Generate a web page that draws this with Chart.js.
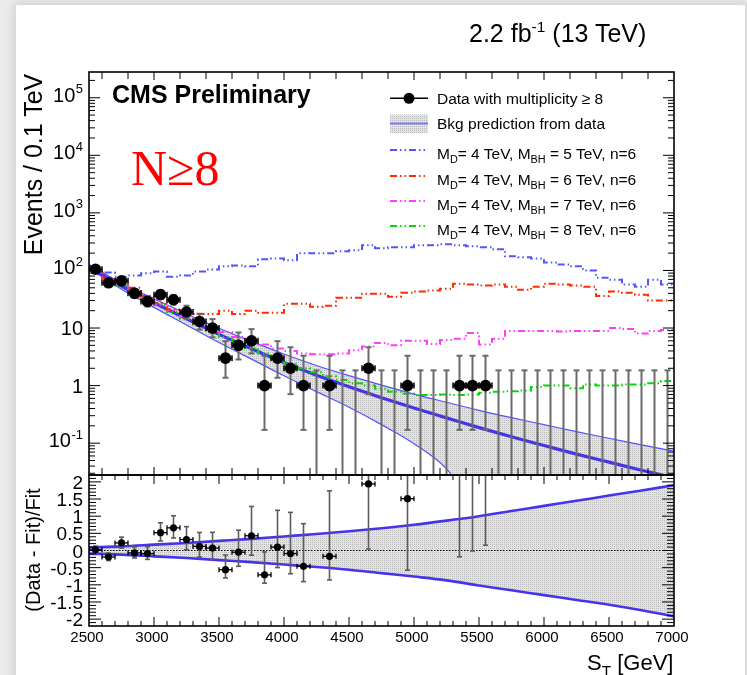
<!DOCTYPE html>
<html>
<head>
<meta charset="utf-8">
<title>Black hole search, multiplicity ≥ 8</title>
<script src="https://cdn.jsdelivr.net/npm/chart.js@4.4.1/dist/chart.umd.min.js"></script>
<style>
  html, body { margin:0; padding:0; }
  body { width:747px; height:675px; overflow:hidden; position:relative; background:#ebebeb;
         font-family:"Liberation Sans", Arial, Helvetica, sans-serif; }
  #sheet { position:absolute; left:16px; top:5px; right:2px; bottom:-20px; background:#fff;
           box-shadow:0 0 9px 2px rgba(0,0,0,0.12); }
  canvas { position:absolute; left:0; top:0; }
  .txt { position:absolute; white-space:nowrap; color:#000; line-height:1; }
  .sub { font-size:70%; position:relative; top:0.37em; }
  .sup { font-size:62%; position:relative; top:-0.62em; }
  .rot { position:absolute; width:300px; text-align:center; white-space:nowrap; transform:rotate(-90deg); transform-origin:50% 50%; }
</style>
</head>
<body>
<div id="sheet"></div>
<canvas id="mainPad" width="747" height="675" style="width:747px;height:675px"></canvas>
<canvas id="ratioPad" width="747" height="675" style="width:747px;height:675px"></canvas>

<div class="txt" style="left:469px; top:20.8px; font-size:25px;">2.2 fb<span class="sup">-1</span> (13 TeV)</div>
<div class="txt" style="left:112px; top:81.8px; font-size:25px; font-weight:bold;">CMS Preliminary</div>
<div class="txt" style="left:131px; top:143.1px; font-size:50px; color:#ff0000; font-family:'Liberation Serif','Times New Roman',serif;">N≥8</div>

<div class="txt" style="left:437px; top:90.9px; font-size:15.5px;">Data with multiplicity ≥ 8</div>
<div class="txt" style="left:437px; top:116.2px; font-size:15.5px;">Bkg prediction from data</div>
<div class="txt" style="left:437px; top:146.2px; font-size:15.5px;">M<span class="sub">D</span>= 4 TeV, M<span class="sub">BH</span> = 5 TeV, n=6</div>
<div class="txt" style="left:437px; top:171.6px; font-size:15.5px;">M<span class="sub">D</span>= 4 TeV, M<span class="sub">BH</span> = 6 TeV, n=6</div>
<div class="txt" style="left:437px; top:196.9px; font-size:15.5px;">M<span class="sub">D</span>= 4 TeV, M<span class="sub">BH</span> = 7 TeV, n=6</div>
<div class="txt" style="left:437px; top:221.6px; font-size:15.5px;">M<span class="sub">D</span>= 4 TeV, M<span class="sub">BH</span> = 8 TeV, n=6</div>

<div class="rot" style="left:-117.5px; top:151.5px; font-size:25px; line-height:25px;">Events / 0.1 TeV</div>
<div class="rot" style="left:-117px; top:540px; font-size:20px; line-height:20px;">(Data - Fit)/Fit</div>
<div class="txt" style="left:587px; top:652.4px; font-size:22px;">S<span class="sub">T</span> [GeV]</div>

<script>
// ---------- binning: 100 GeV bins in S_T ----------
const binCenters = [2550, 2650, 2750, 2850, 2950, 3050, 3150, 3250, 3350, 3450,
                    3550, 3650, 3750, 3850, 3950, 4050, 4150, 4250, 4350, 4450,
                    4550, 4650, 4750, 4850, 4950, 5050, 5150, 5250, 5350, 5450,
                    5550, 5650, 5750, 5850, 5950, 6050, 6150, 6250, 6350, 6450,
                    6550, 6650, 6750, 6850, 6950];

// ---------- observed events (multiplicity >= 8) ----------
const dataCounts = [105, 61, 66, 40, 29, 38, 31, 19, 13, 10,
                    3, 5, 6, 1, 3, 2, 1, 0, 1, 0,
                    0, 2, 0, 0, 1, 0, 0, 0, 1, 1,
                    1, 0, 0, 0, 0, 0, 0, 0, 0, 0,
                    0, 0, 0, 0, 0];
// Poisson (Garwood) uncertainties
const dataErrLow = [10.2, 7.8, 8.1, 6.3, 5.4, 6.1, 5.5, 4.3, 3.6, 3.1,
                    1.63, 2.16, 2.38, 0.83, 1.63, 1.29, 0.83, 0, 0.83, 0,
                    0, 1.29, 0, 0, 0.83, 0, 0, 0, 0.83, 0.83,
                    0.83, 0, 0, 0, 0, 0, 0, 0, 0, 0,
                    0, 0, 0, 0, 0];
const dataErrHigh = [11.3, 8.9, 9.2, 7.4, 6.4, 7.2, 6.6, 5.4, 4.7, 4.3,
                     2.92, 3.38, 3.58, 2.30, 2.92, 2.64, 2.30, 1.84, 2.30, 1.84,
                     1.84, 2.64, 1.84, 1.84, 2.30, 1.84, 1.84, 1.84, 2.30, 2.30,
                     2.30, 1.84, 1.84, 1.84, 1.84, 1.84, 1.84, 1.84, 1.84, 1.84,
                     1.84, 1.84, 1.84, 1.84, 1.84];

// ---------- (Data - Fit)/Fit per bin (null: empty bin) ----------
const ratioValues = [0.02, -0.19, 0.22, -0.07, -0.09, 0.52, 0.66, 0.32, 0.12, 0.07,
                     -0.56, -0.05, 0.43, -0.71, 0.10, -0.09, -0.46, null, -0.17, null,
                     null, 1.94, null, null, 1.51, null, null, null, 3.8, 4.8,
                     5.8, null, null, null, null, null, null, null, null, null,
                     null, null, null, null, null];

// ---------- background fit and its relative uncertainty ----------
const fitST      = [2500, 2750, 3000, 3250, 3500, 3750, 4000, 4250, 4500, 4750,
                    5000, 5250, 5500, 5750, 6000, 6250, 6500, 6750, 7000];
const fitEvents  = [117.5, 53.7, 27.5, 14.5, 7.76, 4.37, 2.51, 1.51, 0.955, 0.617,
                    0.407, 0.275, 0.186, 0.129, 0.0912, 0.0646, 0.0468, 0.0339, 0.0251];
const fitRelUp   = [0.09, 0.12, 0.17, 0.22, 0.28, 0.34, 0.41, 0.48, 0.56, 0.65,
                    0.75, 0.87, 1.00, 1.15, 1.30, 1.45, 1.60, 1.75, 1.90];
const fitRelDown = [-0.09, -0.12, -0.17, -0.22, -0.28, -0.34, -0.41, -0.48, -0.56, -0.66,
                    -0.76, -0.87, -1.02, -1.16, -1.30, -1.44, -1.58, -1.74, -1.92];

// ---------- signal + background, M_D = 4 TeV, n = 6 ----------
const sigMBH5 = [105, 92, 78, 82, 89, 96, 78, 82, 96, 104,
                 118, 122, 118, 156, 162, 150, 199, 199, 199, 215,
                 224, 275, 243, 253, 253, 275, 275, 286, 275, 263,
                 253, 234, 176, 169, 162, 138, 127, 118, 100, 75,
                 69, 57, 52, 69, 57];
const sigMBH6 = [100, 75, 62, 50, 36, 27, 21, 18.4, 17.6, 17.6,
                 20, 17.6, 20, 18.4, 18.4, 26.3, 26.3, 23.4, 24.3, 33.6,
                 33.6, 39.5, 39.5, 35, 41, 43, 45, 48, 59, 57,
                 55, 57, 52, 46, 52, 59, 57, 55, 52, 36,
                 43, 41, 38, 30, 30];
const sigMBH7 = [100, 74, 57, 44, 34, 26, 20.5, 16, 12.5, 10,
                 8.5, 7, 5.8, 5.2, 4.4, 4.0, 3.6, 3.5, 3.5, 3.6,
                 4.1, 4.8, 5.5, 5.0, 6.0, 6.0, 5.3, 6.2, 6.5, 8.2,
                 5.2, 6.5, 8.9, 8.9, 8.9, 8.9, 8.7, 8.9, 8.9, 8.9,
                 10, 9.6, 8.0, 8.9, 9.2];
const sigMBH8 = [100, 71, 55, 42, 32, 25, 19, 14.5, 11.5, 9,
                 7, 5.6, 4.5, 3.6, 2.9, 2.4, 2.0, 1.7, 1.45, 1.25,
                 1.1, 1.0, 0.88, 0.78, 0.72, 0.69, 0.69, 0.70, 0.69, 0.70,
                 0.75, 0.78, 0.80, 0.82, 0.95, 1.0, 1.0, 0.9, 1.05, 1.0,
                 1.0, 1.05, 1.05, 1.1, 1.2];

// ---------- axis tick labels ----------
const mainTickExp   = [-1, 0, 1, 2, 3, 4, 5];
const ratioTickVals = [2, 1.5, 1, 0.5, 0, -0.5, -1, -1.5, -2];
const stTickVals    = [2500, 3000, 3500, 4000, 4500, 5000, 5500, 6000, 6500, 7000];

// ---------- styles ----------
const SANS = '"Liberation Sans", Arial, Helvetica, sans-serif';
const FIT_BLUE = '#4634ec';
const EDGE_BLUE = '#5252ff';
const DASH = [7, 3, 1.5, 3, 1.5, 3];
const SIG_COLORS = ['#5454ff', '#ff2a00', '#ff3cff', '#00dc00'];
const OFF_SCALE = 0.006;   // below the lowest axis value: a non-positive band edge is drawn off the pad

// fine dotted grey fill for the fit uncertainty
const dotCanvas = document.createElement('canvas');
dotCanvas.width = 2; dotCanvas.height = 2;
const dctx = dotCanvas.getContext('2d');
dctx.fillStyle = '#e3e3e3'; dctx.fillRect(0, 0, 2, 2);
dctx.fillStyle = '#bcbcbc'; dctx.fillRect(0, 0, 1, 1);
const bandPattern = dctx.createPattern(dotCanvas, 'repeat');

// ---------- derived tables ----------
const HALF = 50;
const stepPts = vals => vals.map((v, i) => ({x: binCenters[i] - HALF, y: v}))
                            .concat([{x: binCenters[binCenters.length - 1] + HALF, y: vals[vals.length - 1]}]);
const fitPts   = fitST.map((x, i) => ({x, y: fitEvents[i]}));
const upperPts = fitST.map((x, i) => ({x, y: fitEvents[i] * (1 + fitRelUp[i])}));
const lowerPts = fitST.map((x, i) => {
  const v = fitEvents[i] * (1 + fitRelDown[i]);
  return {x, y: v > 0 ? v : OFF_SCALE};
});
const dataPts = binCenters.map((x, i) => ({x, y: dataCounts[i]})).filter(p => p.y > 0);
const dataBars = binCenters.map((x, i) => ({
  x, hw: HALF,
  y: dataCounts[i] > 0 ? dataCounts[i] : null,
  lo: dataCounts[i] - dataErrLow[i],
  hi: dataCounts[i] + dataErrHigh[i]
}));

const ratioPts = [], ratioBars = [];
binCenters.forEach((x, i) => {
  const r = ratioValues[i];
  if (r === null) return;
  const fitHere = dataCounts[i] / (1 + r);
  ratioPts.push({x, y: r});
  ratioBars.push({x, hw: HALF, y: r, lo: r - dataErrLow[i] / fitHere, hi: r + dataErrHigh[i] / fitHere});
});
const ratioUpPts   = fitST.map((x, i) => ({x, y: fitRelUp[i]}));
const ratioDownPts = fitST.map((x, i) => ({x, y: fitRelDown[i]}));

// ---------- drawing helpers ----------
function seg(ctx, x1, y1, x2, y2) { ctx.beginPath(); ctx.moveTo(x1, y1); ctx.lineTo(x2, y2); ctx.stroke(); }

const errorBarPlugin = {
  id: 'errorBars',
  beforeDatasetDraw(chart, args) {
    const ds = chart.data.datasets[args.index];
    const eb = ds.errorBars;
    if (!eb) return;
    const {ctx, chartArea: a, scales: {x, y}} = chart;
    const isLog = y.type === 'logarithmic';
    const toPx = v => (isLog && v <= 0) ? a.bottom + 30 : y.getPixelForValue(v);
    ctx.save();
    ctx.beginPath(); ctx.rect(a.left, a.top, a.right - a.left, a.bottom - a.top); ctx.clip();
    eb.items.forEach(it => {
      const px = x.getPixelForValue(it.x);
      const pLo = toPx(it.lo), pHi = toPx(it.hi);
      ctx.strokeStyle = eb.vColor; ctx.lineWidth = eb.vWidth;
      seg(ctx, px, pLo, px, pHi);
      seg(ctx, px - eb.cap, pHi, px + eb.cap, pHi);
      seg(ctx, px - eb.cap, pLo, px + eb.cap, pLo);
      if (it.y !== null) {
        const py = toPx(it.y);
        const xl = x.getPixelForValue(it.x - it.hw), xr = x.getPixelForValue(it.x + it.hw);
        ctx.strokeStyle = eb.hColor; ctx.lineWidth = eb.hWidth;
        seg(ctx, xl, py, xr, py);
        seg(ctx, xl, py - eb.cap, xl, py + eb.cap);
        seg(ctx, xr, py - eb.cap, xr, py + eb.cap);
      }
    });
    ctx.restore();
  }
};

function framePlugin(id, xTicks, yTicks, extra) {
  return {
    id,
    afterDatasetsDraw(chart) {
      const {ctx, chartArea: a, scales: {x, y}} = chart;
      ctx.save();
      ctx.strokeStyle = '#000';
      ctx.lineWidth = 1;
      xTicks.forEach(([v, len]) => {
        const px = x.getPixelForValue(v);
        seg(ctx, px, a.bottom, px, a.bottom - len);
        seg(ctx, px, a.top, px, a.top + len);
      });
      yTicks.forEach(([v, len]) => {
        const py = y.getPixelForValue(v);
        seg(ctx, a.left, py, a.left + len, py);
        seg(ctx, a.right, py, a.right - len, py);
      });
      ctx.lineWidth = 1.6;
      ctx.strokeRect(a.left, a.top, a.right - a.left, a.bottom - a.top);
      if (extra) extra(chart, ctx);
      ctx.restore();
    }
  };
}

// ---------- tick positions ----------
const mainXTicks = [];
for (let v = 2600; v < 7000; v += 200) mainXTicks.push([v, v % 1000 === 0 ? 8 : 7]);
const mainYTicks = [];
for (let e = -2; e <= 5; e++) {
  for (let k = 1; k <= 9; k++) {
    const v = k * Math.pow(10, e);
    if (v > 0.028 && v < 2.8e5) mainYTicks.push([v, k === 1 ? 11 : 6]);
  }
}
const ratioXTicks = [];
for (let v = 2600; v < 7000; v += 100) ratioXTicks.push([v, v % 500 === 0 ? 9 : 5]);
const ratioYTicks = [];
for (let i = -21; i <= 21; i++) ratioYTicks.push([i / 10, i % 5 === 0 ? 12 : 7]);

// ---------- main pad ----------
function mainExtras(chart, ctx) {
  const y = chart.scales.y;
  ctx.fillStyle = '#000';
  ctx.textBaseline = 'alphabetic';
  mainTickExp.forEach(e => {
    const py = y.getPixelForValue(Math.pow(10, e));
    if (e === 0 || e === 1) {
      ctx.font = '20px ' + SANS; ctx.textAlign = 'right';
      ctx.fillText(e === 0 ? '1' : '10', 83, py + 7);
    } else {
      const sup = String(e);
      ctx.font = '13px ' + SANS;
      const sw = ctx.measureText(sup).width;
      ctx.textAlign = 'right';
      ctx.fillText(sup, 83, py - 4.5);
      ctx.font = '20px ' + SANS;
      ctx.fillText('10', 83 - sw - 0.5, py + 4);
    }
  });
  // legend symbols
  ctx.strokeStyle = '#000'; ctx.lineWidth = 1.5;
  seg(ctx, 390, 98.3, 428, 98.3);
  ctx.fillStyle = '#000';
  ctx.beginPath(); ctx.arc(409, 98.3, 5.5, 0, Math.PI * 2); ctx.fill();
  ctx.fillStyle = bandPattern; ctx.fillRect(390, 114.5, 38, 18.5);
  ctx.strokeStyle = '#7a7aff'; ctx.lineWidth = 2;
  seg(ctx, 390, 123.5, 428, 123.5);
  [150, 176, 201, 226].forEach((ly, i) => {
    ctx.strokeStyle = SIG_COLORS[i]; ctx.lineWidth = 2; ctx.setLineDash(DASH);
    seg(ctx, 390, ly, 428, ly);
  });
  ctx.setLineDash([]);
}

const sigNames = ['MBH = 5 TeV', 'MBH = 6 TeV', 'MBH = 7 TeV', 'MBH = 8 TeV'];
const sigData = [sigMBH5, sigMBH6, sigMBH7, sigMBH8];

new Chart(document.getElementById('mainPad'), {
  type: 'line',
  data: {
    datasets: [
      { label: 'Data with multiplicity ≥ 8', data: dataPts, showLine: false, order: 0,
        pointRadius: 5.8, pointBackgroundColor: '#000', pointBorderWidth: 0,
        errorBars: {items: dataBars, vColor: '#6a6a6a', vWidth: 2, hColor: '#000', hWidth: 1.5, cap: 3} },
      ...sigData.map((vals, i) => ({
        label: sigNames[i], data: stepPts(vals), stepped: true, order: 1 + i,
        borderColor: SIG_COLORS[i], borderWidth: 2, borderDash: DASH, pointRadius: 0, fill: false
      })),
      { label: 'Bkg prediction from data', data: fitPts, order: 5, borderColor: FIT_BLUE, borderWidth: 3.2,
        pointRadius: 0, fill: false, cubicInterpolationMode: 'monotone' },
      { label: 'fit up', data: upperPts, order: 6, borderColor: EDGE_BLUE, borderWidth: 1.2,
        pointRadius: 0, fill: '+1', backgroundColor: bandPattern, cubicInterpolationMode: 'monotone' },
      { label: 'fit down', data: lowerPts, order: 7, borderColor: EDGE_BLUE, borderWidth: 1.2,
        pointRadius: 0, fill: false, tension: 0.4 }
    ]
  },
  options: {
    responsive: false, animation: false, devicePixelRatio: 1,
    layout: { padding: { left: 89, right: 73, top: 72, bottom: 200 } },
    plugins: { legend: { display: false }, tooltip: { enabled: false }, filler: { drawTime: 'beforeDatasetsDraw' } },
    scales: {
      x: { type: 'linear', min: 2500, max: 7000, display: false },
      y: { type: 'logarithmic', min: 0.028, max: 2.8e5, display: false }
    }
  },
  plugins: [errorBarPlugin, framePlugin('mainFrame', mainXTicks, mainYTicks, mainExtras)]
});

// ---------- ratio pad ----------
function ratioExtras(chart, ctx) {
  const {x, y} = chart.scales;
  ctx.fillStyle = '#000';
  ctx.textBaseline = 'alphabetic';
  ctx.font = '19px ' + SANS; ctx.textAlign = 'right';
  ratioTickVals.forEach(v => ctx.fillText(String(v), 83, y.getPixelForValue(v) + 7));
  ctx.font = '15px ' + SANS; ctx.textAlign = 'center';
  stTickVals.forEach(v => ctx.fillText(String(v), x.getPixelForValue(v) - 2, 641.7));
}

new Chart(document.getElementById('ratioPad'), {
  type: 'line',
  data: {
    datasets: [
      { label: '(Data - Fit)/Fit', data: ratioPts, showLine: false, order: 0,
        pointRadius: 3.6, pointBackgroundColor: '#000', pointBorderWidth: 0,
        errorBars: {items: ratioBars, vColor: '#5c5c5c', vWidth: 1.6, hColor: '#000', hWidth: 1.3, cap: 2.5} },
      { label: 'zero', data: [{x: 2500, y: 0}, {x: 7000, y: 0}], order: 1, borderColor: '#000',
        borderWidth: 1.2, borderDash: [1.5, 1.5], pointRadius: 0, fill: false },
      { label: 'fit unc up', data: ratioUpPts, order: 2, borderColor: FIT_BLUE, borderWidth: 2.6,
        pointRadius: 0, fill: '+1', backgroundColor: bandPattern, cubicInterpolationMode: 'monotone' },
      { label: 'fit unc down', data: ratioDownPts, order: 3, borderColor: FIT_BLUE, borderWidth: 2.6,
        pointRadius: 0, fill: false, cubicInterpolationMode: 'monotone' }
    ]
  },
  options: {
    responsive: false, animation: false, devicePixelRatio: 1,
    layout: { padding: { left: 89, right: 73, top: 475, bottom: 49 } },
    plugins: { legend: { display: false }, tooltip: { enabled: false }, filler: { drawTime: 'beforeDatasetsDraw' } },
    scales: {
      x: { type: 'linear', min: 2500, max: 7000, display: false },
      y: { type: 'linear', min: -2.2, max: 2.2, display: false }
    }
  },
  plugins: [errorBarPlugin, framePlugin('ratioFrame', ratioXTicks, ratioYTicks, ratioExtras)]
});
</script>
</body>
</html>
